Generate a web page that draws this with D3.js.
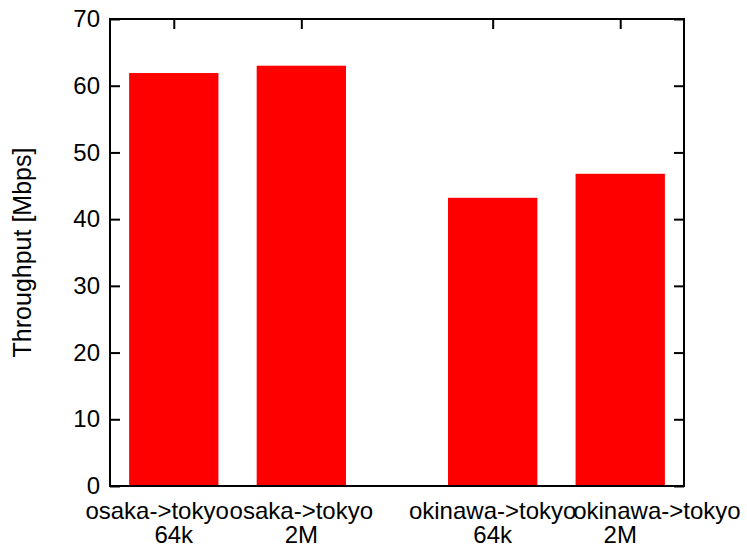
<!DOCTYPE html>
<html>
<head>
<meta charset="utf-8">
<script src="https://cdn.jsdelivr.net/npm/d3@7"></script>
<style>
  html, body { margin: 0; padding: 0; background: #fff; }
  text { font-family: "Liberation Sans", Arial, Helvetica, sans-serif; fill: #000; }
  .xlabel { white-space: pre; }
</style>
</head>
<body>
<svg id="chart" width="747" height="551"></svg>
<script>
// Throughput per route and window size (route names keep their padding spaces)
const routes = ["osaka->tokyo     ", "osaka->tokyo", "okinawa->tokyo", "           okinawa->tokyo"];
const windows = ["64k", "2M", "64k", "2M"];
const positions = [0, 1, 2.5, 3.5];
const throughput = [61.9, 63.0, 43.2, 46.8];
const yTicks = [0, 10, 20, 30, 40, 50, 60, 70];

const svg = d3.select("#chart");
const plot = { left: 110, top: 19, right: 684, bottom: 486 };
const fontSize = 24;

const x = d3.scaleLinear().domain([-0.5, 4]).range([plot.left, plot.right]);
const y = d3.scaleLinear().domain([0, 70]).range([plot.bottom, plot.top]);
const barW = x(0.7) - x(0);
const tickLen = 10;

// bars
svg.append("g")
  .selectAll("rect")
  .data(throughput)
  .join("rect")
  .attr("x", (d, i) => x(positions[i]) - barW / 2)
  .attr("y", d => y(d))
  .attr("width", barW)
  .attr("height", d => y(0) - y(d))
  .attr("fill", "#ff0000");

// frame with inward ticks on all four sides
const frame = svg.append("g").attr("stroke", "#000").attr("stroke-width", 2).attr("fill", "none");
frame.append("rect")
  .attr("x", plot.left).attr("y", plot.top)
  .attr("width", plot.right - plot.left).attr("height", plot.bottom - plot.top);

const leftAxis = d3.axisLeft(y).tickValues(yTicks).tickSizeInner(-tickLen).tickSizeOuter(0).tickPadding(10);
const rightAxis = d3.axisRight(y).tickValues(yTicks).tickSizeInner(-tickLen).tickSizeOuter(0).tickFormat("");
const topAxis = d3.axisTop(x).tickValues(positions).tickSizeInner(-tickLen).tickSizeOuter(0).tickFormat("");

const gl = svg.append("g").attr("transform", `translate(${plot.left},0)`).call(leftAxis);
const gr = svg.append("g").attr("transform", `translate(${plot.right},0)`).call(rightAxis);
const gt = svg.append("g").attr("transform", `translate(0,${plot.top})`).call(topAxis);
[gl, gr, gt].forEach(g => {
  g.select(".domain").remove();
  g.selectAll(".tick line").attr("stroke", "#000").attr("stroke-width", 2);
});
gl.selectAll(".tick text")
  .attr("font-size", fontSize)
  .attr("font-family", "Liberation Sans, Arial, sans-serif")
  .attr("fill", "#000");

// category labels, two lines each, every line centred on its tick
const xl = svg.append("g");
xl.selectAll("text.route")
  .data(positions)
  .join("text")
  .attr("class", "xlabel route")
  .attr("text-anchor", "middle")
  .attr("font-size", fontSize)
  .attr("x", d => x(d))
  .attr("y", 519)
  .text((d, i) => routes[i]);
xl.selectAll("text.win")
  .data(positions)
  .join("text")
  .attr("class", "xlabel win")
  .attr("text-anchor", "middle")
  .attr("font-size", fontSize)
  .attr("x", d => x(d))
  .attr("y", 543)
  .text((d, i) => windows[i]);

// y axis title
svg.append("text")
  .attr("transform", `translate(31,${(plot.top + plot.bottom) / 2}) rotate(-90)`)
  .attr("text-anchor", "middle")
  .attr("font-size", 25)
  .text("Throughput [Mbps]");
</script>
</body>
</html>
